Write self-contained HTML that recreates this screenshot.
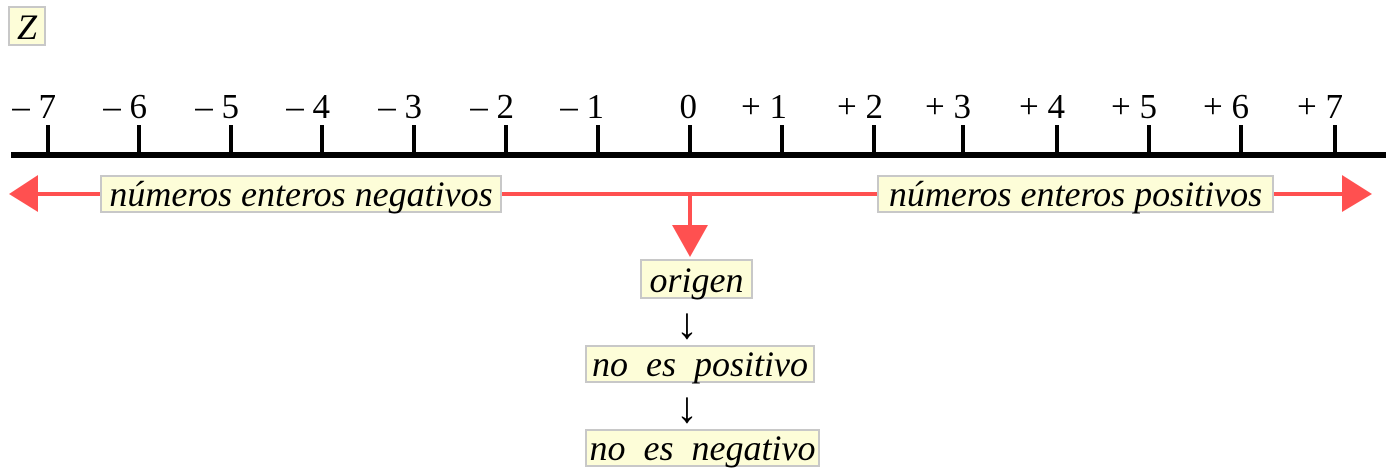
<!DOCTYPE html>
<html><head><meta charset="utf-8"><style>
html,body{margin:0;padding:0;background:#fff;}
body{width:1396px;height:476px;overflow:hidden;position:relative;font-family:"Liberation Serif",serif;}
.b{position:absolute;background:#fdfdd8;border:2px solid #c8c8c8;box-sizing:border-box;font-style:italic;font-size:36px;color:#000;text-align:center;white-space:pre;line-height:34px;letter-spacing:0px;}
.ar{position:absolute;font-size:44px;line-height:44px;}
</style></head><body>
<svg width="1396" height="476" style="position:absolute;left:0;top:0">
<g font-family="Liberation Serif, serif" font-size="35" text-anchor="end" fill="#000">
<text x="56" y="118">– 7</text>
<text x="147" y="118">– 6</text>
<text x="239" y="118">– 5</text>
<text x="330" y="118">– 4</text>
<text x="422" y="118">– 3</text>
<text x="514" y="118">– 2</text>
<text x="604" y="118">– 1</text>
<text x="697" y="118">0</text>
<text x="787" y="118">+ 1</text>
<text x="883" y="118">+ 2</text>
<text x="971" y="118">+ 3</text>
<text x="1065" y="118">+ 4</text>
<text x="1157" y="118">+ 5</text>
<text x="1249" y="118">+ 6</text>
<text x="1343" y="118">+ 7</text>
</g>
<rect x="11" y="152" width="1375" height="6" fill="#000"/>
<g stroke="#000" stroke-width="4">
<line x1="48" y1="125" x2="48" y2="153"/><line x1="139" y1="125" x2="139" y2="153"/>
<line x1="231" y1="125" x2="231" y2="153"/><line x1="322" y1="125" x2="322" y2="153"/>
<line x1="414" y1="125" x2="414" y2="153"/><line x1="506" y1="125" x2="506" y2="153"/>
<line x1="598" y1="125" x2="598" y2="153"/><line x1="690" y1="125" x2="690" y2="153"/>
<line x1="782" y1="125" x2="782" y2="153"/><line x1="874" y1="125" x2="874" y2="153"/>
<line x1="963" y1="125" x2="963" y2="153"/><line x1="1057" y1="125" x2="1057" y2="153"/>
<line x1="1149" y1="125" x2="1149" y2="153"/><line x1="1241" y1="125" x2="1241" y2="153"/>
<line x1="1335" y1="125" x2="1335" y2="153"/>
</g>
<g fill="#ff5050" stroke="none">
<rect x="35" y="192" width="1310" height="4"/>
<polygon points="9,194 38,175 38,212"/>
<polygon points="1372,194 1342,175 1342,212"/>
<rect x="688" y="194" width="4" height="32"/>
<polygon points="672,225 708,225 690,257"/>
</g>
</svg>
<div class="b" style="left:8px;top:6px;width:38px;height:40px;line-height:38px;">Z</div>
<div class="b" style="left:100px;top:175px;width:402px;height:38px;">números enteros negativos</div>
<div class="b" style="left:877px;top:175px;width:397px;height:38px;">números enteros positivos</div>
<div class="b" style="left:640px;top:259px;width:113px;height:40px;line-height:38px;">origen</div>
<div class="ar" style="left:676px;top:302px;">↓</div>
<div class="b" style="left:585px;top:345px;width:230px;height:38px;">no  es  positivo</div>
<div class="ar" style="left:676px;top:386px;">↓</div>
<div class="b" style="left:585px;top:429px;width:235px;height:38px;">no  es  negativo</div>
</body></html>
